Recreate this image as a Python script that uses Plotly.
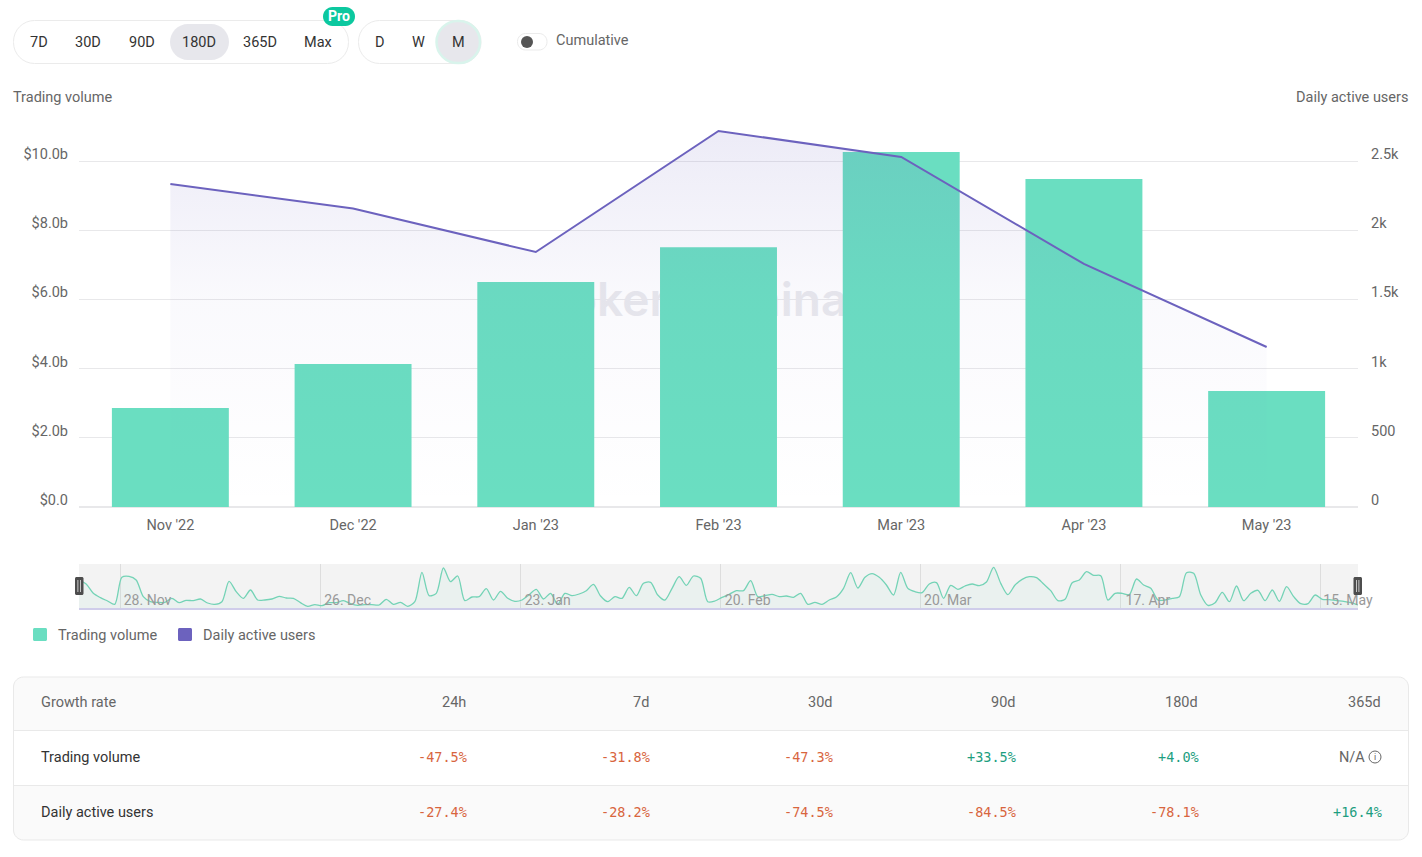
import pandas as pd
import plotly.graph_objects as go

W, H = 1422, 857

months = ["Nov '22", "Dec '22", "Jan '23", "Feb '23", "Mar '23", "Apr '23", "May '23"]
trading_volume = [2.86, 4.13, 6.5, 7.51, 10.26, 9.48, 3.35]
daily_users = [2334, 2157, 1842, 2717, 2529, 1756, 1156]

volume_ticks = [0, 2, 4, 6, 8, 10]
volume_labels = ["$0.0", "$2.0b", "$4.0b", "$6.0b", "$8.0b", "$10.0b"]
user_ticks = [0, 500, 1000, 1500, 2000, 2500]
user_labels = ["0", "500", "1k", "1.5k", "2k", "2.5k"]

# daily volume for the navigator strip
nav_volume = [
    84, 72, 44, 31, 21, 11, 92, 95, 84, 34, 19, 17, 17, 29, 16, 23, 22, 27, 15, 11,
    19, 80, 49, 29, 54, 24, 24, 27, 35, 30, 29, 16, 5, 10, 7, 16, 16, 22, 13, 8,
    10, 10, 9, 26, 11, 17, 5, 19, 107, 37, 44, 120, 79, 96, 22, 33, 34, 58, 24, 50,
    29, 20, 24, 40, 56, 27, 44, 11, 44, 37, 42, 52, 71, 36, 19, 34, 29, 62, 37, 74,
    77, 39, 24, 59, 94, 68, 96, 89, 19, 21, 32, 41, 52, 52, 82, 34, 37, 41, 34, 36,
    32, 44, 11, 17, 11, 24, 33, 59, 106, 60, 92, 103, 92, 69, 39, 107, 59, 49, 46, 72,
    76, 29, 68, 56, 66, 72, 67, 78, 122, 74, 40, 69, 86, 94, 91, 72, 52, 22, 26, 76,
    84, 109, 98, 97, 24, 44, 44, 40, 87, 69, 59, 24, 24, 29, 34, 106, 104, 39, 8, 16,
    47, 19, 66, 22, 44, 53, 22, 54, 20, 64, 34, 13, 13, 39, 26, 25, 22, 20, 16, 9,
]
nav_dates = pd.date_range("2022-11-22 04:30", periods=len(nav_volume), freq="D")
nav_ticks = ["2022-11-28", "2022-12-26", "2023-01-23", "2023-02-20", "2023-03-20", "2023-04-17", "2023-05-15"]
nav_tick_labels = ["28. Nov", "26. Dec", "23. Jan", "20. Feb", "20. Mar", "17. Apr", "15. May"]

range_buttons = ["7D", "30D", "90D", "180D", "365D", "Max"]
range_button_x = [39, 88, 142, 199, 260, 318]
period_buttons = ["D", "W", "M"]
period_button_x = [380, 418, 458]

table_header = ["24h", "7d", "30d", "90d", "180d", "365d"]
table_volume = ["-47.5%", "-31.8%", "-47.3%", "+33.5%", "+4.0%", "N/A"]
table_users = ["-27.4%", "-28.2%", "-74.5%", "-84.5%", "-78.1%", "+16.4%"]
table_col_x = [466, 649, 832, 1015, 1198, 1381]

FONT = "Roboto"
MONO = "DejaVu Sans Mono"
GREEN = "#6ADEC1"
PURPLE = "#6C62BE"


def px(x):
    return x / W


def py(y):
    return 1 - y / H


def round_rect(x0, y0, x1, y1, r, fill, line=None, width=1):
    k = r * 0.45
    path = (
        f"M {px(x0 + r)} {py(y0)} L {px(x1 - r)} {py(y0)} "
        f"C {px(x1 - k)} {py(y0)} {px(x1)} {py(y0 + k)} {px(x1)} {py(y0 + r)} "
        f"L {px(x1)} {py(y1 - r)} "
        f"C {px(x1)} {py(y1 - k)} {px(x1 - k)} {py(y1)} {px(x1 - r)} {py(y1)} "
        f"L {px(x0 + r)} {py(y1)} "
        f"C {px(x0 + k)} {py(y1)} {px(x0)} {py(y1 - k)} {px(x0)} {py(y1 - r)} "
        f"L {px(x0)} {py(y0 + r)} "
        f"C {px(x0)} {py(y0 + k)} {px(x0 + k)} {py(y0)} {px(x0 + r)} {py(y0)} Z"
    )
    return dict(
        type="path", xref="paper", yref="paper", path=path, fillcolor=fill,
        line=dict(color=line if line else "rgba(0,0,0,0)", width=width if line else 0),
    )


def rect(x0, y0, x1, y1, fill):
    return dict(
        type="rect", xref="paper", yref="paper", x0=px(x0), x1=px(x1), y0=py(y0), y1=py(y1),
        fillcolor=fill, line=dict(width=0),
    )


def label(x, y, text, size=14.5, color="#555555", anchor="left", family=FONT):
    return dict(
        xref="paper", yref="paper", x=px(x), y=py(y), text=text, showarrow=False,
        xanchor=anchor, yanchor="middle", align=anchor, borderpad=0, borderwidth=0,
        font=dict(family=family, size=size, color=color),
    )


fig = go.Figure()

# watermark sits on the base subplot so the bars cover it
fig.add_trace(go.Scatter(
    x=[0.4905], y=[0.522], mode="text", text=["tokenterminal"], xaxis="x", yaxis="y",
    textfont=dict(family="Inter", size=46, color="#E9E9ED", weight=600),
    hoverinfo="skip", showlegend=False,
))
fig.add_trace(go.Bar(
    x=months, y=trading_volume, name="Trading volume", xaxis="x2", yaxis="y2",
    marker=dict(color=GREEN, line=dict(width=0)),
))
fig.add_trace(go.Scatter(
    x=months, y=daily_users, name="Daily active users", xaxis="x2", yaxis="y3", mode="lines",
    line=dict(color=PURPLE, width=2), fill="tozeroy",
    fillgradient=dict(
        type="vertical",
        colorscale=[[0, "rgba(108,98,190,0)"], [0.55, "rgba(108,98,190,0.035)"], [1, "rgba(108,98,190,0.125)"]],
    ),
))
fig.add_trace(go.Scatter(
    x=nav_dates, y=nav_volume, xaxis="x3", yaxis="y4", mode="lines",
    line=dict(color="#74D3B6", width=1.3, shape="spline", smoothing=0.8),
    fill="tozeroy", fillcolor="rgba(106,222,193,0.06)", hoverinfo="skip", showlegend=False,
))

shapes = [
    # range and period pickers
    round_rect(13.5, 20.5, 348.5, 63.5, 21, "white", "#EBEBEB"),
    round_rect(358.5, 20.5, 481, 63.5, 21, "white", "#EBEBEB"),
    round_rect(170, 24, 229, 60, 18, "#E7E7EC"),
    round_rect(436.5, 21, 480, 63, 21, "#E7E7EC", "#D9F4EC", 2.5),
    round_rect(323, 7, 355, 26, 9.5, "#0CC89F"),
    # cumulative toggle
    round_rect(517.5, 33.5, 547, 50, 8, "white", "#EBEBEB"),
    dict(type="circle", xref="paper", yref="paper", x0=px(521), x1=px(533), y0=py(36), y1=py(48),
         fillcolor="#555555", line=dict(width=0)),
    # navigator background and handles
    dict(rect(79, 564, 1358, 608, "#F3F3F3"), layer="below"),
    round_rect(75, 577, 83.5, 595, 1.5, "#4D4D4D"),
    rect(77.5, 580, 78.3, 592, "#E8E8E8"),
    rect(80, 580, 80.8, 592, "#E8E8E8"),
    round_rect(1353.5, 577, 1362, 595, 1.5, "#4D4D4D"),
    rect(1356, 580, 1356.8, 592, "#E8E8E8"),
    rect(1358.5, 580, 1359.3, 592, "#E8E8E8"),
    # legend swatches
    round_rect(33, 628, 47, 641, 1.5, GREEN),
    round_rect(178, 628, 192, 641, 1.5, PURPLE),
    # table
    round_rect(13.5, 677, 1408.5, 840, 10, "#FAFAFA", "#E9E9E9"),
    rect(14, 730.5, 1408, 785.5, "white"),
    rect(14, 730, 1408, 731, "#E9E9E9"),
    rect(14, 785, 1408, 786, "#E9E9E9"),
    dict(type="circle", xref="paper", yref="paper", x0=px(1369), x1=px(1381), y0=py(751), y1=py(763),
         fillcolor="rgba(0,0,0,0)", line=dict(color="#666666", width=1)),
]

annotations = [
    label(13, 98, "Trading volume", color="#666666"),
    label(1408, 98, "Daily active users", color="#666666", anchor="right"),
    label(339, 16, "<b>Pro</b>", size=14, color="white", anchor="center"),
    label(556, 41, "Cumulative", color="#666666"),
    label(58, 635, "Trading volume", color="#666666"),
    label(203, 635, "Daily active users", color="#666666"),
    label(41, 702, "Growth rate", color="#666666"),
    label(41, 757, "Trading volume", color="#333333"),
    label(41, 812, "Daily active users", color="#333333"),
    label(1375, 757, "i", size=9, color="#666666", anchor="center"),
]
for text, x in zip(range_buttons, range_button_x):
    annotations.append(label(x, 42, text, color="#333333", anchor="center"))
for text, x in zip(period_buttons, period_button_x):
    annotations.append(label(x, 42, text, color="#333333", anchor="center"))
for text, x in zip(table_header, table_col_x):
    annotations.append(label(x, 702, text, color="#666666", anchor="right"))


def growth_color(value):
    return "#D8653E" if value.startswith("-") else "#1D9E80"


for text, x in zip(table_volume, table_col_x):
    if text == "N/A":
        annotations.append(label(1365, 757, text, color="#666666", anchor="right"))
    else:
        annotations.append(label(x + 1, 757, text, size=13.5, color=growth_color(text), anchor="right", family=MONO))
for text, x in zip(table_users, table_col_x):
    annotations.append(label(x + 1, 812, text, size=13.5, color=growth_color(text), anchor="right", family=MONO))

main_domain_x = [px(79), px(1358)]
main_domain_y = [py(507), py(120)]
tick_font = dict(family=FONT, size=14.5, color="#666666")

fig.update_layout(
    width=W,
    height=H,
    margin=dict(l=0, r=0, t=0, b=0),
    paper_bgcolor="white",
    plot_bgcolor="rgba(0,0,0,0)",
    showlegend=False,
    bargap=0.36,
    shapes=shapes,
    annotations=annotations,
    xaxis=dict(domain=main_domain_x, range=[0, 1], visible=False, fixedrange=True, automargin=False),
    yaxis=dict(domain=main_domain_y, range=[0, 1], visible=False, fixedrange=True, automargin=False),
    xaxis2=dict(
        domain=main_domain_x, overlaying="x", anchor="y2", type="category", categoryorder="array",
        categoryarray=months, range=[-0.5, 6.5], showgrid=False, showline=False, zeroline=False,
        ticks="", tickfont=tick_font, ticklabelstandoff=7, automargin=False,
    ),
    yaxis2=dict(
        domain=main_domain_y, overlaying="y", anchor="x2", side="left", range=[0, 11.185],
        tickvals=volume_ticks, ticktext=volume_labels, tickfont=tick_font, ticks="",
        showgrid=True, gridcolor="#E8E8EA", gridwidth=1, zeroline=True, zerolinecolor="#E8E8EA",
        ticklabelstandoff=10, ticklabelshift=-7, automargin=False,
    ),
    yaxis3=dict(
        domain=main_domain_y, overlaying="y", anchor="x2", side="right", range=[0, 2796],
        tickvals=user_ticks, ticktext=user_labels, tickfont=tick_font, ticks="",
        showgrid=False, zeroline=False, ticklabelstandoff=12, ticklabelshift=-7, automargin=False,
    ),
    xaxis3=dict(
        domain=main_domain_x, anchor="y4", type="date",
        range=["2022-11-22 04:30", "2023-05-20 04:30"],
        tickvals=nav_ticks, ticktext=nav_tick_labels, tickfont=dict(family=FONT, size=14, color="#999999"),
        ticklabelposition="inside", ticklabeloverflow="allow", ticklabelshift=27, ticks="",
        showgrid=True, gridcolor="#DDDDDD", gridwidth=1,
        showline=True, linecolor="#CFCDEA", linewidth=1.5, zeroline=False, automargin=False,
    ),
    yaxis4=dict(
        domain=[py(608), py(564)], anchor="x3", range=[0, 132], visible=False, fixedrange=True,
        automargin=False,
    ),
)

fig.write_html("out.html", config={"displayModeBar": False}, post_script="document.body.style.margin='0'")
